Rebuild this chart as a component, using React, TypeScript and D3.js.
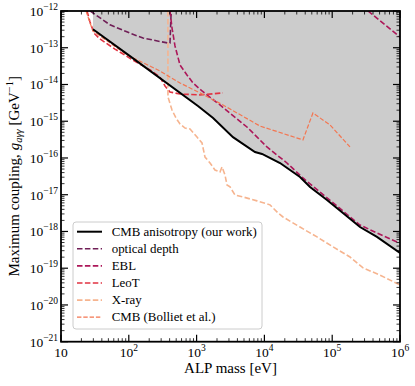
import React from "react";
import * as d3 from "d3";

// ALP mass [eV] and coupling [GeV^-1]
const cmbMass = [29.6, 104, 1047, 1750, 3440, 7260, 9230, 1.7e4, 3.35e4, 4.71e4, 8.38e4, 1.44e5, 2.57e5, 4.57e5, 1e6];
const cmbCoupling = [3.2e-13, 5.9e-14, 2.6e-15, 1.22e-15, 3.7e-16, 1.45e-16, 1.29e-16, 7.3e-17, 3.04e-17, 1.62e-17, 7.2e-18, 3.18e-18, 1.32e-18, 7.1e-19, 2.6e-19];

const opticalMass = [27, 52.8, 104, 162, 288, 378, 405, 422];
const opticalCoupling = [1e-12, 4.2e-13, 2.5e-13, 1.84e-13, 1.48e-13, 1.35e-13, 1.35e-13, 1e-12];

// NaN splits the two EBL pieces
const eblMass = [405, 434, 480, 569, 721, 885, 1202, 2213, 5530, 1.09e4, 2.15e4, 3.7e4, 8.38e4, 2.57e5, 4.57e5, 9.66e5, NaN, 3.37e5, 1e6];
const eblCoupling = [1e-12, 3.44e-13, 1.12e-13, 3.4e-14, 1.82e-14, 1.1e-14, 6.65e-15, 2.77e-15, 6.98e-16, 2e-16, 7.3e-17, 2.86e-17, 8.2e-18, 1.5e-18, 9.1e-19, 4.9e-19, NaN, 1e-12, 1.96e-13];

const leoMass = [24.2, 26.8, 30.7, 37.6, 62.5, 115, 206, 288, 342, 405, 569, 1122, 2449];
const leoCoupling = [1e-12, 5e-13, 2.5e-13, 1.73e-13, 9.2e-14, 4.6e-14, 2.5e-14, 1.6e-14, 9.1e-15, 6.25e-15, 5.5e-15, 5.2e-15, 5.9e-15];

const xrayMass = [378, 378, 434, 497, 569, 675, 800, 1014, 1202, 1330, 1578, 1866, 2213, 2371, 2624, 2806, 3112, 3681, 4831, 7780, 1.21e4, 1.59e4, 1.88e4, 3.35e4, 5.97e4, 1.03e5, 1.83e5, 2.85e5, 5.07e5, 1e6];
const xrayCoupling = [1e-12, 4.57e-15, 2.02e-15, 1.22e-15, 8.4e-16, 6.5e-16, 6.15e-16, 3.7e-16, 2.56e-16, 1.06e-16, 7.3e-17, 4.7e-17, 4.16e-17, 5.7e-17, 3.44e-17, 1.84e-17, 1.63e-17, 9.8e-18, 8.7e-18, 6.8e-18, 5.3e-18, 3.18e-18, 2.48e-18, 1.32e-18, 7.1e-19, 3.8e-19, 2.02e-19, 1.02e-19, 6.5e-20, 3.5e-20];

const bollietMass = [23.4, 25.9, 29.6, 94, 288, 569, 1122, 2449, 8610, 3.7e4, 5.2e4, 9.3e4, 1.83e5];
const bollietCoupling = [1e-12, 5.7e-13, 2.86e-13, 6.4e-14, 2.33e-14, 1.1e-14, 5.9e-15, 2.77e-15, 7.4e-16, 3.1e-16, 1.68e-15, 7.9e-16, 2e-16];

const legendLabels = ["CMB anisotropy (our work)", "optical depth", "EBL", "LeoT", "X-ray", "CMB (Bolliet et al.)"];
const xExponents = [1, 2, 3, 4, 5, 6];
const yExponents = [-21, -20, -19, -18, -17, -16, -15, -14, -13, -12];

const W = 415, H = 386;
const left = 61, right = 400, top = 11, bottom = 341.7;
const font = "'Liberation Serif', 'Times New Roman', serif";

export default function App() {
    const x = d3.scaleLog().domain([10, 1e6]).range([left, right]);
    const y = d3.scaleLog().domain([1e-21, 1e-12]).range([bottom, top]);

    const pts = (ms: number[], gs: number[]) => ms.map((m, i) => [m, gs[i]] as [number, number]);
    const line = d3.line<[number, number]>()
        .defined(d => !isNaN(d[0]))
        .x(d => x(d[0]))
        .y(d => y(d[1]));
    const area = d3.area<[number, number]>()
        .x(d => x(d[0]))
        .y0(() => y(1e-12))
        .y1(d => y(d[1]));

    const series = [
        { m: cmbMass, g: cmbCoupling, color: "#000000", width: 2, dash: "none" },
        { m: opticalMass, g: opticalCoupling, color: "#701f57", width: 1.6, dash: "5.5,2.4" },
        { m: eblMass, g: eblCoupling, color: "#ad1759", width: 1.6, dash: "5.5,2.4" },
        { m: leoMass, g: leoCoupling, color: "#e13342", width: 1.6, dash: "5.5,2.4" },
        { m: xrayMass, g: xrayCoupling, color: "#f6b48f", width: 1.6, dash: "5.5,2.4" },
        { m: bollietMass, g: bollietCoupling, color: "#f37651", width: 1.2, dash: "4.4,1.9" },
    ];

    const xMinor: number[] = [];
    for (let e = 1; e < 6; e++) for (let k = 2; k <= 9; k++) xMinor.push(k * 10 ** e);
    const yMinor: number[] = [];
    for (let e = -21; e < -12; e++) for (let k = 2; k <= 9; k++) yMinor.push(k * 10 ** e);

    const legX = 73, legY = 222, rowH = 17.1;

    return (
        <svg width={W} height={H} style={{ position: "absolute", left: 0, top: 0 }} fontFamily={font}>
            <defs>
                <clipPath id="plotArea">
                    <rect x={left} y={top} width={right - left} height={bottom - top} />
                </clipPath>
            </defs>
            <rect width={W} height={H} fill="white" />

            <g clipPath="url(#plotArea)">
                <path d={area(pts(cmbMass, cmbCoupling)) || ""} fill="#cccccc" />
                {series.slice(1).concat(series.slice(0, 1)).map((s, i) => (
                    <path key={i} d={line(pts(s.m, s.g)) || ""} fill="none" stroke={s.color}
                        strokeWidth={s.width} strokeDasharray={s.dash} />
                ))}
            </g>

            {/* ticks, inward on all four sides */}
            <g stroke="black">
                {xExponents.map(e => (
                    <g key={"xm" + e}>
                        <line x1={x(10 ** e)} x2={x(10 ** e)} y1={bottom} y2={bottom - 7} strokeWidth={1.2} />
                        <line x1={x(10 ** e)} x2={x(10 ** e)} y1={top} y2={top + 7} strokeWidth={1.2} />
                    </g>
                ))}
                {xMinor.map((v, i) => (
                    <g key={"xn" + i}>
                        <line x1={x(v)} x2={x(v)} y1={bottom} y2={bottom - 3.5} strokeWidth={0.8} />
                        <line x1={x(v)} x2={x(v)} y1={top} y2={top + 3.5} strokeWidth={0.8} />
                    </g>
                ))}
                {yExponents.map(e => (
                    <g key={"ym" + e}>
                        <line x1={left} x2={left + 7} y1={y(10 ** e)} y2={y(10 ** e)} strokeWidth={1.2} />
                        <line x1={right} x2={right - 7} y1={y(10 ** e)} y2={y(10 ** e)} strokeWidth={1.2} />
                    </g>
                ))}
                {yMinor.map((v, i) => (
                    <g key={"yn" + i}>
                        <line x1={left} x2={left + 3.5} y1={y(v)} y2={y(v)} strokeWidth={0.8} />
                        <line x1={right} x2={right - 3.5} y1={y(v)} y2={y(v)} strokeWidth={0.8} />
                    </g>
                ))}
            </g>
            <rect x={left} y={top} width={right - left} height={bottom - top} fill="none" stroke="black" strokeWidth={1.8} />

            {/* tick labels */}
            {xExponents.map(e => (
                <text key={"xl" + e} x={x(10 ** e)} y={357} textAnchor="middle" fontSize={13.5}>
                    10{e > 1 && <tspan dy={-6} fontSize={9.5}>{e}</tspan>}
                </text>
            ))}
            {yExponents.map(e => (
                <text key={"yl" + e} x={58} y={y(10 ** e) + 5} textAnchor="end" fontSize={13.5}>
                    10<tspan dy={-6} fontSize={9.5}>{"\u2212" + Math.abs(e)}</tspan>
                </text>
            ))}

            {/* axis labels */}
            <text x={(left + right) / 2} y={373} textAnchor="middle" fontSize={15}>ALP mass [eV]</text>
            <text transform={`translate(19, ${(top + bottom) / 2}) rotate(-90)`} textAnchor="middle" fontSize={15}>
                Maximum coupling, <tspan fontStyle="italic">g</tspan>
                <tspan dy={3} fontSize={10.5} fontStyle="italic">aγγ</tspan>
                <tspan dy={-3}> [GeV</tspan>
                <tspan dy={-6} fontSize={10.5}>{"\u22121"}</tspan>
                <tspan dy={6}>]</tspan>
            </text>

            {/* legend */}
            <rect x={legX} y={legY} width={189} height={107} rx={3} fill="white" fillOpacity={0.8} stroke="#cccccc" strokeWidth={1} />
            {legendLabels.map((lab, i) => {
                const s = series[i];
                const cy = 231.7 + i * rowH;
                return (
                    <g key={"lg" + i}>
                        <line x1={77} x2={102} y1={cy} y2={cy} stroke={s.color} strokeWidth={s.width} strokeDasharray={s.dash} />
                        <text x={111.7} y={cy + 4} fontSize={12.9}>{lab}</text>
                    </g>
                );
            })}
        </svg>
    );
}
